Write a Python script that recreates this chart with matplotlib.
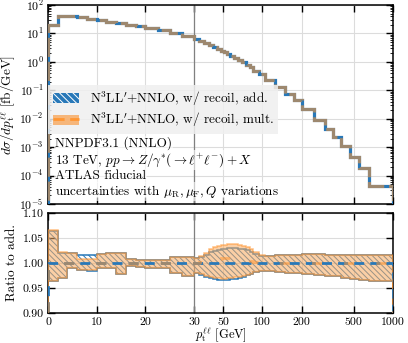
import numpy as np
import matplotlib
matplotlib.use("Agg")
import matplotlib.pyplot as plt
from matplotlib.patches import Patch
from matplotlib.lines import Line2D
from matplotlib.ticker import FixedLocator, FixedFormatter, LogLocator, NullFormatter

plt.rcParams['font.family'] = 'serif'
plt.rcParams['font.serif'] = ['cmr10']
plt.rcParams['mathtext.fontset'] = 'cm'
plt.rcParams['axes.formatter.use_mathtext'] = True
plt.rcParams['axes.unicode_minus'] = False
plt.rcParams['hatch.linewidth'] = 0.7

# ---------------- data ----------------
edges = [0, 2, 4, 6, 8, 10, 12, 14, 16, 18, 20, 22.5, 25, 27.5, 30, 33, 36, 39, 42, 45,
         48, 51, 54, 57, 61, 65, 70, 75, 80, 85, 95, 105, 125, 150, 175, 200, 250, 300,
         350, 400, 470, 550, 650, 1000]

xsec = [19.5, 40, 40, 37, 33, 29, 26, 23, 20.5, 18, 15.5, 13, 10.5, 8.0,
        6.5, 5.4, 4.6, 3.9, 3.35, 2.9, 2.5, 2.15, 1.9, 1.62, 1.38, 1.15, 0.95, 0.78,
        0.65, 0.49, 0.36, 0.23, 0.135, 0.075, 0.045, 0.022, 0.0092, 0.0044, 0.0022,
        0.0011, 4.5e-4, 1.8e-4, 4.2e-5]

add_lo = [0.963, 0.969, 0.989, 0.986, 0.983, 0.989, 0.990, 0.978, 0.993, 0.991, 0.989, 0.989,
          0.980, 0.974, 0.980, 0.976, 0.972, 0.969, 0.967, 0.966, 0.965, 0.965, 0.966, 0.967,
          0.968, 0.970, 0.972, 0.975, 0.978, 0.981, 0.984, 0.984, 0.982, 0.980, 0.979, 0.977,
          0.975, 0.974, 0.973, 0.970, 0.968, 0.966, 0.964]
add_hi = [1.065, 1.021, 1.020, 1.016, 1.016, 1.019, 1.020, 1.020, 1.009, 1.007, 1.007, 1.007,
          1.013, 1.013, 1.010, 1.013, 1.017, 1.022, 1.025, 1.027, 1.028, 1.029, 1.030, 1.030,
          1.030, 1.029, 1.028, 1.026, 1.023, 1.019, 1.015, 1.014, 1.016, 1.017, 1.017, 1.018,
          1.018, 1.017, 1.017, 1.017, 1.016, 1.016, 1.016]
mult_lo = [0.963, 0.969, 0.989, 0.986, 0.985, 0.989, 0.990, 0.978, 0.993, 0.991, 0.989, 0.989,
           0.980, 0.974, 0.980, 0.977, 0.974, 0.972, 0.970, 0.969, 0.968, 0.968, 0.969, 0.970,
           0.971, 0.972, 0.974, 0.976, 0.978, 0.981, 0.984, 0.984, 0.982, 0.980, 0.979, 0.977,
           0.975, 0.974, 0.973, 0.970, 0.968, 0.966, 0.964]
mult_hi = [1.066, 1.022, 1.020, 1.008, 1.008, 1.018, 1.020, 1.020, 1.009, 1.007, 1.007, 1.007,
           1.013, 1.013, 1.010, 1.014, 1.020, 1.028, 1.032, 1.035, 1.036, 1.037, 1.038, 1.039,
           1.038, 1.036, 1.034, 1.032, 1.028, 1.022, 1.017, 1.014, 1.016, 1.017, 1.017, 1.018,
           1.018, 1.017, 1.017, 1.017, 1.016, 1.016, 1.016]
mult_c = [1.0, 1.0, 1.0, 1.0, 1.0, 1.0, 1.0, 1.0, 1.0, 1.0, 1.0, 1.0,
          1.0, 1.0, 1.0, 1.002, 1.004, 1.006, 1.008, 1.009, 1.010, 1.010, 1.010, 1.010,
          1.010, 1.009, 1.008, 1.007, 1.005, 1.003, 1.001, 1.0, 1.0, 1.0, 1.0, 1.0,
          1.0, 1.0, 1.0, 1.0, 1.0, 1.0, 1.0]

xticks = [0, 10, 20, 30, 50, 100, 200, 500, 1000]
xticklabels = ['0', '10', '20', '30', '50', '100', '200', '500', '1000']
rticks = [0.90, 0.95, 1.00, 1.05, 1.10]

edges_a = np.array(edges, float)
xsec_a = np.array(xsec, float)

# ---------------- scale: linear up to 30, log above ----------------
K = 26.85
def fwd(x):
    x = np.asarray(x, float)
    return np.where(x <= 30, x, 30 + K * np.log10(np.maximum(x, 1e-9) / 30.0))
def inv(u):
    u = np.asarray(u, float)
    return np.where(u <= 30, u, 30 * 10 ** ((u - 30) / K))

BLUE = '#2878b8'
ORANGE = '#ff9633'
ORANGE_FILL = '#f8a85c'

FS = 9.5
W, H = 408, 343
fig = plt.figure(figsize=(W / 100, H / 100), dpi=100)
ax1 = fig.add_axes([48 / W, (H - 204) / H, 345 / W, 199 / H])
ax2 = fig.add_axes([48 / W, (H - 313) / H, 345 / W, 100 / H])

for ax in (ax1, ax2):
    ax.set_xscale('function', functions=(fwd, inv))
    ax.set_xlim(0, 1000)
    ax.xaxis.set_major_locator(FixedLocator(xticks))
    ax.xaxis.set_minor_locator(FixedLocator([]))
    ax.grid(True, which='major', color='#dcdcdc', lw=0.8, zorder=0)
    ax.set_axisbelow(True)
    ax.axvline(30, color='#808080', lw=0.9, zorder=1)
    ax.tick_params(which='both', direction='in', top=True, right=True, labelsize=8.5)
    ax.tick_params(which='major', length=5, width=1.0, pad=3)
    ax.tick_params(which='minor', length=2.5, width=0.6)
    for s in ax.spines.values():
        s.set_linewidth(1.1)

# top panel
ax1.set_yscale('log')
ax1.set_ylim(1e-5, 1e2)
ax1.yaxis.set_major_locator(LogLocator(base=10, numticks=10))
ax1.yaxis.set_minor_locator(LogLocator(base=10, subs=np.arange(2, 10), numticks=20))
ax1.yaxis.set_minor_formatter(NullFormatter())
ax1.xaxis.set_major_formatter(NullFormatter())

ax1.stairs(xsec_a, edges_a, color=BLUE, lw=2.3, zorder=3)
ax1.stairs(xsec_a, edges_a, color=ORANGE, lw=2.3, alpha=0.55, ls=(0, (6, 1.5)), zorder=4)
ax1.set_ylabel(r'$d\sigma/dp_\mathrm{t}^{\ell\ell}$ [fb/GeV]', fontsize=FS)
ax1.yaxis.set_label_coords(-0.088, 0.5)

h_add = Patch(facecolor=BLUE, edgecolor='white', hatch='\\\\\\\\\\', lw=0)
h_mult = (Patch(facecolor=ORANGE_FILL, edgecolor='none', alpha=0.8),
          Line2D([], [], color=ORANGE, lw=2, ls=(0, (4, 2))))
leg = ax1.legend([h_add, h_mult],
                 [r"N$^3$LL$'$+NNLO, w/ recoil, add.", r"N$^3$LL$'$+NNLO, w/ recoil, mult."],
                 loc='upper left', bbox_to_anchor=(0.0, 0.6), borderaxespad=0.0,
                 fontsize=FS, frameon=True, fancybox=False, handlelength=2.0,
                 handleheight=0.8, handletextpad=0.8, borderpad=0.35, labelspacing=0.25)
leg.get_frame().set_facecolor('#efefef')
leg.get_frame().set_edgecolor('none')
leg.get_frame().set_alpha(0.85)

texts = ['NNPDF3.1 (NNLO)',
         r'13 TeV, $pp \to Z/\gamma^{*}(\to \ell^{+}\ell^{-}) + X$',
         'ATLAS fiducial',
         r'uncertainties with $\mu_\mathrm{R}, \mu_\mathrm{F}, Q$ variations']
ypos = [0.305, 0.222, 0.142, 0.062]
for t, y in zip(texts, ypos):
    ax1.text(0.02, y, t, transform=ax1.transAxes, fontsize=FS, va='center', ha='left',
             bbox=dict(facecolor='white', edgecolor='none', alpha=0.6, pad=0.6), zorder=5)

# ratio panel
def stepfill(ax, lo, hi, **kw):
    lo_a = np.append(lo, lo[-1])
    hi_a = np.append(hi, hi[-1])
    ax.fill_between(edges_a, lo_a, hi_a, step='post', **kw)

stepfill(ax2, add_lo, add_hi, facecolor='none', edgecolor=BLUE, hatch='\\\\\\\\\\\\', lw=0, zorder=2)
ax2.stairs(add_hi, edges_a, color=BLUE, lw=1.1, zorder=2)
ax2.stairs(add_lo, edges_a, color=BLUE, lw=1.1, zorder=2)
stepfill(ax2, mult_lo, mult_hi, facecolor=ORANGE_FILL, edgecolor='none', alpha=0.55, lw=0, zorder=3)
ax2.stairs(mult_hi, edges_a, color=ORANGE, lw=1.1, alpha=0.6, zorder=3)
ax2.stairs(mult_lo, edges_a, color=ORANGE, lw=1.1, alpha=0.6, zorder=3)
ax2.stairs(np.ones(len(xsec)), edges_a, color=BLUE, lw=2.0, ls=(0, (3.6, 2.2)), zorder=4)
ax2.stairs(mult_c, edges_a, color=ORANGE, lw=2.0, alpha=0.55, ls=(0, (3.6, 8.0)), zorder=5)

ax2.set_ylim(0.90, 1.10)
ax2.yaxis.set_major_locator(FixedLocator(rticks))
ax2.yaxis.set_major_formatter(FixedFormatter(['%.2f' % v for v in rticks]))
ax2.xaxis.set_major_formatter(FixedFormatter(xticklabels))
ax2.set_ylabel('Ratio to add.', fontsize=FS)
ax2.yaxis.set_label_coords(-0.088, 0.5)
ax2.set_xlabel(r'$p_\mathrm{t}^{\ell\ell}$ [GeV]', fontsize=9)
ax2.xaxis.set_label_coords(0.5, -0.125)

fig.savefig('out.png', dpi=100)
